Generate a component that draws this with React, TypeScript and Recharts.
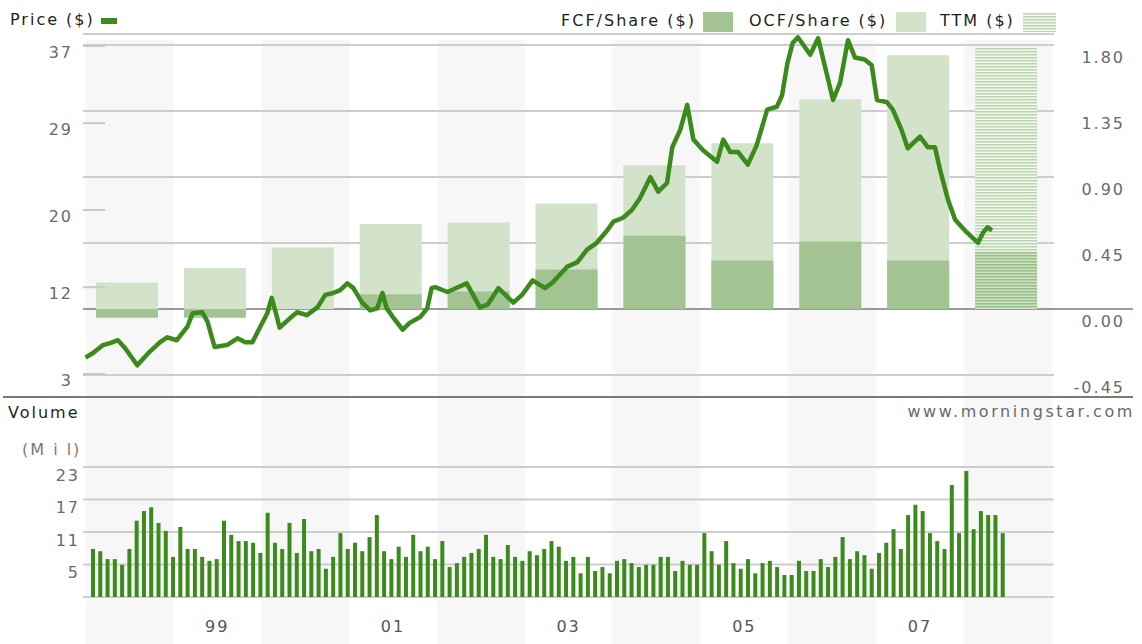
import React from "react";
import {
  ComposedChart,
  Bar,
  Line,
  XAxis,
  YAxis,
  CartesianGrid,
  ReferenceArea,
  Cell,
} from "recharts";

const FONT = '"DejaVu Sans", Verdana, sans-serif';

// annual cash flow per share (last one is trailing twelve months)
const cfYears = ["1998", "1999", "2000", "2001", "2002", "2003", "2004", "2005", "2006", "2007", "TTM"];
const ocfPerShare = [0.18, 0.28, 0.42, 0.58, 0.59, 0.72, 0.98, 1.13, 1.43, 1.73, 1.78];
const fcfPerShare = [-0.06, -0.06, 0.0, 0.1, 0.12, 0.27, 0.5, 0.33, 0.46, 0.33, 0.39];

// price line (decimal year, $)
const priceDates = [
  1998.0, 1998.09, 1998.2, 1998.28, 1998.37, 1998.45, 1998.59, 1998.73, 1998.85, 1998.93,
  1999.04, 1999.16, 1999.22, 1999.33, 1999.39, 1999.47, 1999.61, 1999.73, 1999.82, 1999.9,
  1999.99, 2000.07, 2000.12, 2000.18, 2000.21, 2000.33, 2000.41, 2000.52, 2000.64, 2000.73,
  2000.82, 2000.9, 2000.98, 2001.05, 2001.15, 2001.24, 2001.32, 2001.38, 2001.43, 2001.5,
  2001.61, 2001.69, 2001.81, 2001.89, 2001.94, 2001.98, 2002.12, 2002.24, 2002.34, 2002.49,
  2002.58, 2002.7, 2002.87, 2002.97, 2003.09, 2003.23, 2003.32, 2003.48, 2003.6, 2003.71,
  2003.82, 2003.94, 2004.01, 2004.12, 2004.22, 2004.31, 2004.43, 2004.52, 2004.62, 2004.68,
  2004.77, 2004.85, 2004.92, 2005.03, 2005.19, 2005.26, 2005.34, 2005.43, 2005.54, 2005.64,
  2005.76, 2005.87, 2005.93, 2005.99, 2006.05, 2006.11, 2006.25, 2006.34, 2006.51, 2006.59,
  2006.68, 2006.76, 2006.87, 2006.95, 2007.01, 2007.12, 2007.19, 2007.29, 2007.36, 2007.5,
  2007.59, 2007.67, 2007.73, 2007.82, 2007.9, 2008.03, 2008.16, 2008.22, 2008.27, 2008.32,
];
const priceValues = [
  4.7, 5.2, 6.0, 6.2, 6.5, 5.7, 3.9, 5.3, 6.3, 6.8,
  6.5, 7.9, 9.3, 9.4, 8.4, 5.8, 6.0, 6.7, 6.3, 6.3,
  7.9, 9.3, 10.9, 8.9, 7.8, 8.8, 9.4, 9.1, 9.9, 11.2,
  11.4, 11.7, 12.4, 11.9, 10.4, 9.6, 9.8, 11.4, 9.8, 8.9,
  7.6, 8.3, 8.9, 9.8, 11.9, 12.0, 11.5, 12.0, 12.4, 9.9,
  10.2, 11.9, 10.4, 11.2, 12.7, 11.9, 12.5, 14.1, 14.6, 15.9,
  16.6, 17.9, 18.8, 19.2, 20.0, 21.2, 23.4, 21.9, 22.8, 26.5,
  28.3, 30.9, 27.3, 26.2, 25.0, 27.3, 26.0, 26.0, 24.7, 26.7,
  30.4, 30.7, 31.9, 35.2, 37.3, 37.9, 36.1, 37.8, 31.4, 33.2,
  37.6, 35.8, 35.6, 35.0, 31.4, 31.2, 30.4, 28.3, 26.4, 27.6,
  26.5, 26.5, 24.1, 21.0, 19.0, 17.7, 16.6, 17.7, 18.2, 17.9,
];

// monthly volume, millions, Jan 1998 .. Jun 2008
const volumeMil = [
  8.5, 8.1, 6.7, 6.7, 5.7, 8.5, 13.5, 15.2, 15.9, 13.1, 11.7, 7.1,
  12.4, 8.5, 8.5, 7.1, 6.4, 6.7, 13.5, 11.0, 9.9, 9.9, 9.6, 7.8,
  14.9, 9.6, 8.5, 13.1, 7.8, 13.8, 8.1, 8.5, 5.0, 7.1, 11.3, 8.5,
  9.6, 8.1, 10.6, 14.5, 8.1, 6.7, 8.9, 7.1, 11.0, 8.1, 8.9, 6.7,
  9.9, 5.3, 6.0, 7.1, 7.8, 8.5, 11.0, 7.1, 6.7, 9.2, 7.1, 6.4,
  8.1, 7.4, 8.5, 9.9, 8.9, 6.4, 7.1, 4.2, 7.1, 4.6, 5.3, 4.2,
  6.4, 6.7, 6.0, 5.3, 5.7, 5.7, 7.1, 7.1, 4.6, 6.4, 5.7, 5.7,
  11.3, 8.1, 5.7, 9.9, 6.0, 5.0, 6.7, 4.2, 6.0, 6.4, 5.3, 3.9,
  3.9, 6.4, 4.6, 4.6, 6.7, 5.3, 7.1, 10.6, 6.7, 8.1, 7.4, 5.0,
  7.8, 9.6, 12.0, 8.5, 14.5, 16.3, 15.2, 11.3, 9.9, 8.5, 19.8, 11.3,
  22.3, 12.0, 15.2, 14.5, 14.5, 11.3,
];

const shadedYears = [1998, 2000, 2002, 2004, 2006, 2008];
const priceTicks = [3, 12, 20, 29, 37];
const cfTicks = [-0.45, 0, 0.45, 0.9, 1.35, 1.8];
const volTicks = [5.75, 11.5, 17.25, 23];
const yearTicks = [1999.5, 2001.5, 2003.5, 2005.5, 2007.5];

const T0 = 1997.972;
const T1 = 2009.025;

const cfRows = cfYears.map((year, i) => ({
  year,
  ocf: ocfPerShare[i],
  fcf: fcfPerShare[i],
  ttm: year === "TTM",
}));
const priceRows = priceDates.map((t, i) => ({ t, price: priceValues[i] }));
const volumeRows = volumeMil.map((vol, i) => ({
  month: `${1998 + Math.floor(i / 12)}-${String((i % 12) + 1).padStart(2, "0")}`,
  vol,
}));
const bandRows = shadedYears.map((t) => ({ t, v: 0.5 }));

const GREEN = "#3b8a1c";
const OCF_FILL = "#d3e3ca";
const FCF_FILL = "#a3c492";
const BAND_FILL = "#f7f7f7";

const tickText = { fontSize: 16, fontFamily: FONT, letterSpacing: 2, fill: "#6a6a6a" };

function PriceTick(props: any) {
  const { x, y, payload } = props;
  return (
    <g>
      <line x1={x + 10} x2={x + 32} y1={y} y2={y} stroke="#c8c8c8" strokeWidth={2} />
      <text x={x} y={y + 6} dy="0.36em" textAnchor="end" style={tickText}>
        {payload.value}
      </text>
    </g>
  );
}

function CfTick(props: any) {
  const { x, y, payload } = props;
  const v = payload.value as number;
  return (
    <g>
      {v === 0 && <line x1={x - 71} x2={x + 8} y1={y} y2={y} stroke="#9a9a9a" strokeWidth={2} />}
      <text x={x} y={y + 12} dy="0.36em" textAnchor="end" style={tickText}>
        {v.toFixed(2)}
      </text>
    </g>
  );
}

function VolTick(props: any) {
  const { x, y, payload } = props;
  return (
    <text x={x} y={y + 8} dy="0.36em" textAnchor="end" style={tickText}>
      {Math.floor(payload.value)}
    </text>
  );
}

function YearTick(props: any) {
  const { x, y, payload } = props;
  const yy = String(Math.floor(payload.value) % 100).padStart(2, "0");
  return (
    <text x={x} y={y - 1} dy="0.36em" textAnchor="middle" style={{ ...tickText, fill: "#555" }}>
      {yy}
    </text>
  );
}

function Label(props: { text: string; left?: number; right?: number; cy: number; color?: string; spacing?: number }) {
  const { text, left, right, cy, color = "#1e1e1e", spacing = 2 } = props;
  return (
    <div
      style={{
        position: "absolute",
        left,
        right,
        top: cy - 10,
        lineHeight: "20px",
        fontSize: 16,
        letterSpacing: spacing,
        color,
        whiteSpace: "nowrap",
        fontFamily: FONT,
      }}
    >
      {text}
    </div>
  );
}

function Swatch(props: { left: number; top: number; w: number; h: number; fill: string }) {
  const { left, top, w, h, fill } = props;
  return (
    <svg style={{ position: "absolute", left, top }} width={w} height={h}>
      <rect x={0} y={0} width={w} height={h} fill={fill} />
    </svg>
  );
}

export default function App() {
  return (
    <div
      style={{
        position: "absolute",
        left: 0,
        top: 0,
        width: 1142,
        height: 644,
        background: "#fff",
        fontFamily: FONT,
        overflow: "hidden",
      }}
    >
      <svg width={0} height={0} style={{ position: "absolute" }}>
        <defs>
          <pattern id="ttmLight" patternUnits="userSpaceOnUse" width={4} height={3}>
            <rect width={4} height={3} fill="#f4f8f1" />
            <rect width={4} height={1.5} fill="#b9d5ab" />
          </pattern>
          <pattern id="ttmDark" patternUnits="userSpaceOnUse" width={4} height={3}>
            <rect width={4} height={3} fill="#cfe1c5" />
            <rect width={4} height={1.5} fill="#98bf86" />
          </pattern>
        </defs>
      </svg>

      {/* alternating year bands behind both panels */}
      <div style={{ position: "absolute", left: 0, top: 0 }}>
        <ComposedChart width={1142} height={644} data={bandRows} margin={{ top: 40, right: 88, bottom: 0, left: 83 }}>
          <XAxis xAxisId="b" type="number" dataKey="t" domain={[T0, T1]} allowDataOverflow hide />
          <YAxis yAxisId="b" type="number" domain={[0, 1]} allowDataOverflow hide />
          {shadedYears.map((y) => (
            <ReferenceArea
              key={y}
              xAxisId="b"
              yAxisId="b"
              x1={y}
              x2={y + 1}
              y1={0}
              y2={1}
              fill={BAND_FILL}
              fillOpacity={1}
              strokeOpacity={0}
              ifOverflow="hidden"
            />
          ))}
          <Line
            xAxisId="b"
            yAxisId="b"
            dataKey="v"
            stroke="none"
            dot={false}
            activeDot={false}
            isAnimationActive={false}
          />
        </ComposedChart>
      </div>

      {/* price and cash flow panel */}
      <div style={{ position: "absolute", left: 0, top: 0 }}>
        <ComposedChart
          width={1142}
          height={400}
          data={cfRows}
          barGap={-62}
          margin={{ top: 34, right: 8, bottom: 3, left: 23 }}
        >
          <XAxis xAxisId="cat" dataKey="year" type="category" hide padding={{ left: 0, right: 4 }} />
          <XAxis xAxisId="time" dataKey="t" type="number" domain={[T0, T1]} allowDataOverflow hide />
          <YAxis
            yAxisId="price"
            orientation="left"
            type="number"
            domain={[0.616, 38.244]}
            allowDataOverflow
            ticks={priceTicks}
            interval={0}
            width={60}
            axisLine={false}
            tickLine={false}
            tickSize={0}
            tickMargin={10}
            tick={<PriceTick />}
          />
          <YAxis
            yAxisId="cf"
            orientation="right"
            type="number"
            domain={[-0.6, 1.875]}
            allowDataOverflow
            ticks={cfTicks}
            interval={0}
            width={80}
            axisLine={false}
            tickLine={false}
            tickSize={0}
            tickMargin={71}
            tick={<CfTick />}
          />
          <CartesianGrid xAxisId="time" yAxisId="cf" vertical={false} stroke="#cdcdcd" strokeWidth={2} />
          <CartesianGrid
            xAxisId="time"
            yAxisId="cf"
            vertical={false}
            horizontalValues={[0]}
            stroke="#9a9a9a"
            strokeWidth={2}
          />
          <Bar xAxisId="cat" yAxisId="cf" dataKey="ocf" barSize={62} fill={OCF_FILL} isAnimationActive={false}>
            {cfRows.map((r) => (
              <Cell key={r.year} fill={r.ttm ? "url(#ttmLight)" : OCF_FILL} />
            ))}
          </Bar>
          <Bar xAxisId="cat" yAxisId="cf" dataKey="fcf" barSize={62} fill={FCF_FILL} isAnimationActive={false}>
            {cfRows.map((r) => (
              <Cell key={r.year} fill={r.ttm ? "url(#ttmDark)" : FCF_FILL} />
            ))}
          </Bar>
          <Line
            xAxisId="time"
            yAxisId="price"
            data={priceRows}
            dataKey="price"
            type="linear"
            stroke={GREEN}
            strokeWidth={4.5}
            strokeLinejoin="round"
            dot={false}
            activeDot={false}
            isAnimationActive={false}
          />
        </ComposedChart>
      </div>

      {/* volume panel */}
      <div style={{ position: "absolute", left: 0, top: 397 }}>
        <ComposedChart width={1142} height={247} data={volumeRows} margin={{ top: 0, right: 88, bottom: 0, left: 23 }}>
          <XAxis xAxisId="m" dataKey="month" type="category" hide padding={{ left: 6, right: 48 }} />
          <XAxis
            xAxisId="time"
            dataKey="t"
            type="number"
            domain={[T0, T1]}
            allowDataOverflow
            ticks={yearTicks}
            interval={0}
            height={47}
            axisLine={false}
            tickLine={false}
            tickSize={0}
            tickMargin={0}
            tick={<YearTick />}
          />
          <YAxis
            yAxisId="vol"
            type="number"
            domain={[0, 35.385]}
            allowDataOverflow
            ticks={volTicks}
            interval={0}
            width={60}
            axisLine={false}
            tickLine={false}
            tickSize={0}
            tickMargin={3}
            tick={<VolTick />}
          />
          <CartesianGrid xAxisId="time" yAxisId="vol" vertical={false} stroke="#cdcdcd" strokeWidth={2} />
          <Bar xAxisId="m" yAxisId="vol" dataKey="vol" barSize={4} fill={GREEN} isAnimationActive={false} />
        </ComposedChart>
      </div>

      {/* panel separator */}
      <div style={{ position: "absolute", left: 3, top: 396, width: 1130, height: 2, background: "#7a7a7a" }} />

      {/* legend */}
      <Label text="Price ($)" left={10} cy={20} />
      <div style={{ position: "absolute", left: 101, top: 18, width: 16, height: 6, background: GREEN }} />
      <Label text="FCF/Share ($)" left={561} cy={21} />
      <Swatch left={703} top={12} w={30} h={20} fill={FCF_FILL} />
      <Label text="OCF/Share ($)" left={749} cy={21} />
      <Swatch left={896} top={12} w={30} h={20} fill={OCF_FILL} />
      <Label text="TTM ($)" left={940} cy={21} />
      <Swatch left={1023} top={13} w={33} h={19} fill="url(#ttmLight)" />

      <Label text="Volume" left={8} cy={413} />
      <Label text="www.morningstar.com" right={7} cy={412} color="#6a6a6a" spacing={2.6} />
      <Label text="(M i l)" left={22} cy={450} color="#7a7a7a" />
    </div>
  );
}
